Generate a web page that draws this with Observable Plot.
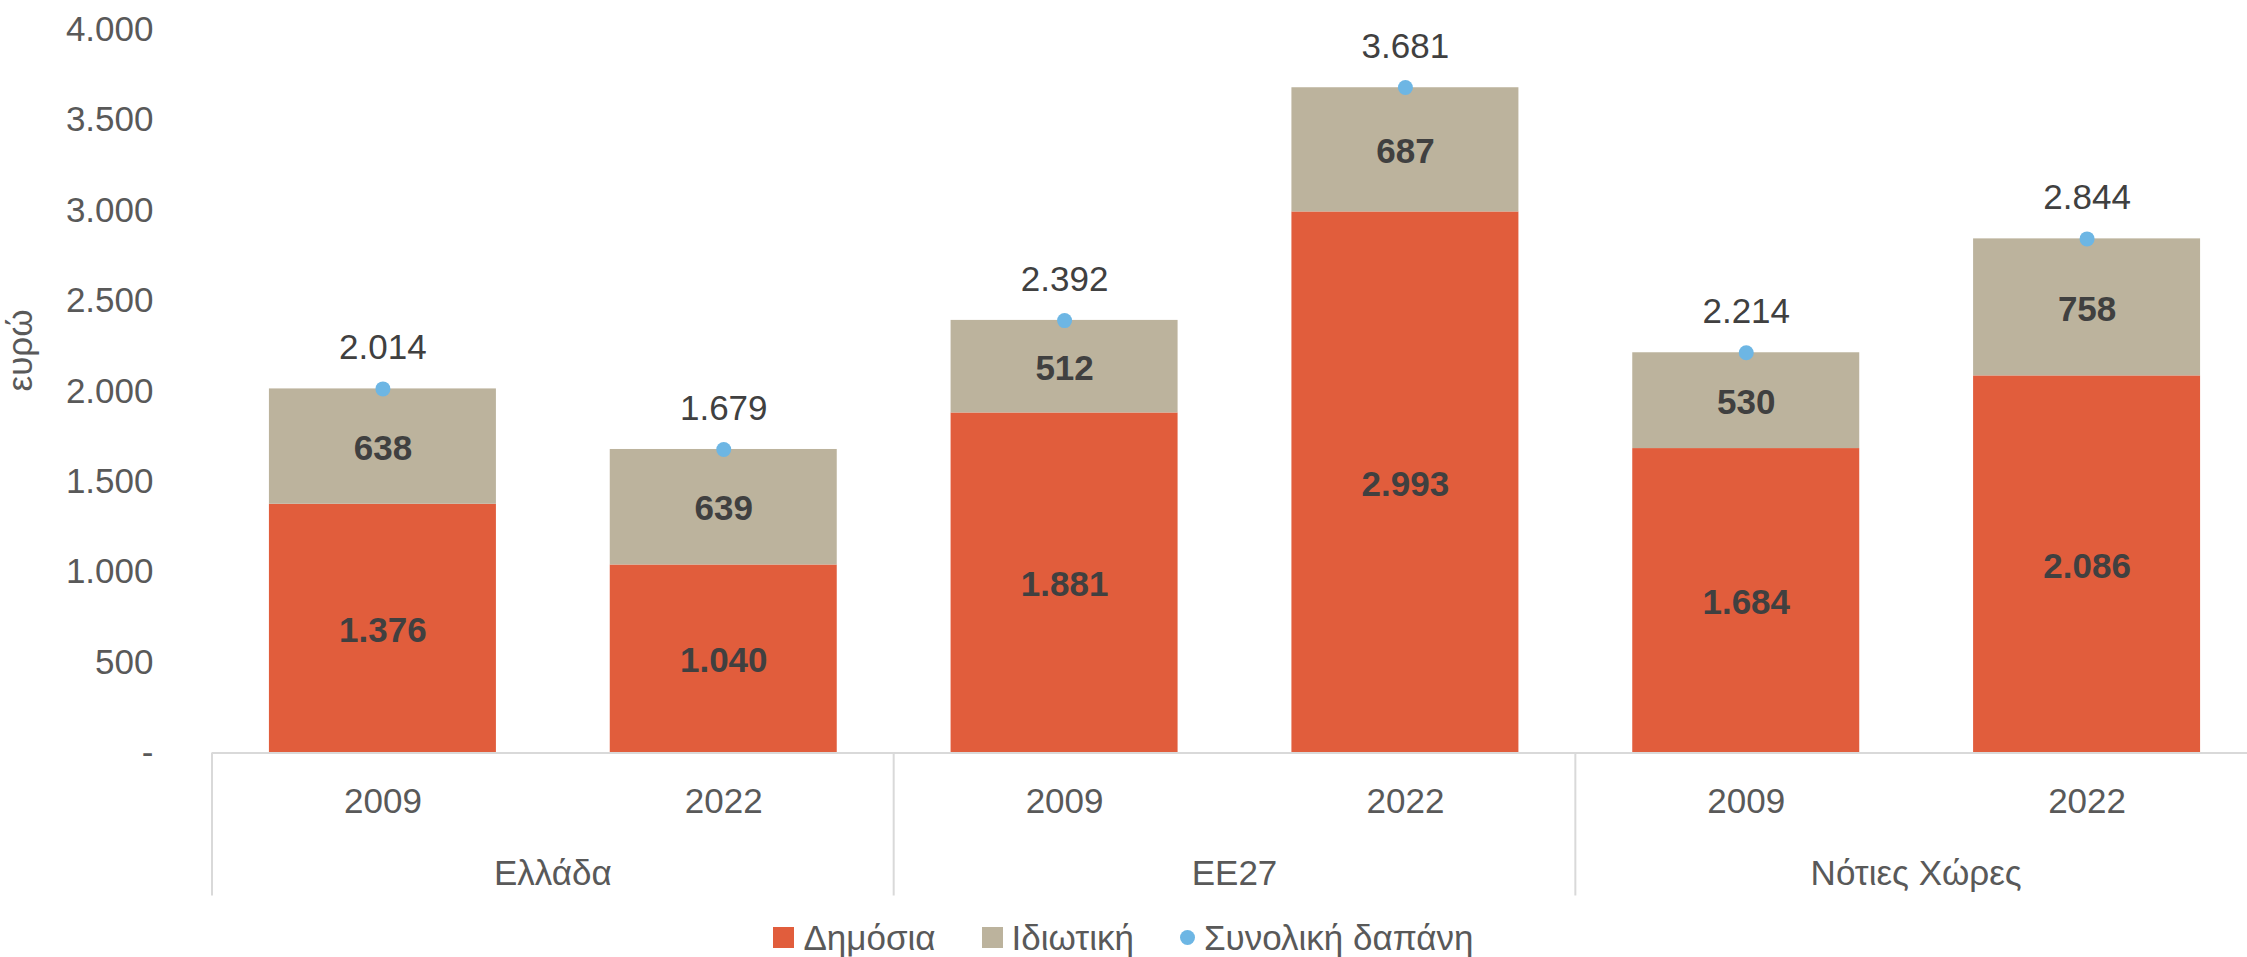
<!DOCTYPE html>
<html>
<head>
<meta charset="utf-8">
<script src="https://cdn.jsdelivr.net/npm/d3@7"></script>
<script src="https://cdn.jsdelivr.net/npm/@observablehq/plot@0.6"></script>
<style>
  html, body { margin: 0; padding: 0; background: #fff; }
  #chart svg { display: block; }
  .legend { display: flex; justify-content: center; align-items: center; height: 45px; margin-top: 3px;
    font-family: "Liberation Sans", Arial, sans-serif; font-size: 35px; color: #595959; width: 2247px; }
  .legend .item { display: flex; align-items: center; margin: 0 23px; }
  .legend .sw { width: 21px; height: 21px; margin-right: 9px; }
  .legend .dot { width: 15px; height: 15px; border-radius: 50%; margin-right: 9px; }
</style>
</head>
<body>
<div id="chart"></div>
<div class="legend" id="legend"></div>
<script>
const categories = ["Ελλάδα", "ΕΕ27", "Νότιες Χώρες"];
const years = ["2009", "2022"];
const seriesNames = ["Δημόσια", "Ιδιωτική", "Συνολική δαπάνη"];
const publicSpend = [1376, 1040, 1881, 2993, 1684, 2086];
const privateSpend = [638, 639, 512, 687, 530, 758];
const totalSpend = [2014, 1679, 2392, 3681, 2214, 2844];
const yTicks = [0, 500, 1000, 1500, 2000, 2500, 3000, 3500, 4000];

const colors = ["#E15D3C", "#BCB39D", "#6DB6E4"];

const locale = d3.formatLocale({decimal: ",", thousands: ".", grouping: [3], currency: ["", "€"]});
const fmt = locale.format(",d");
const fmtAxis = v => v === 0 ? "-" : fmt(v);

const keys = categories.flatMap(c => years.map(y => `${c}|${y}`));
const rows = [];
keys.forEach((k, i) => {
  rows.push({key: k, series: seriesNames[0], value: publicSpend[i]});
  rows.push({key: k, series: seriesNames[1], value: privateSpend[i]});
});
const totals = keys.map((k, i) => ({key: k, total: totalSpend[i]}));

const W = 2247, H = 912, yZero = 752.5, yTop = 29.4;
const font = "'Liberation Sans', Arial, sans-serif";

const chart = Plot.plot({
  width: W,
  height: H,
  marginLeft: 212,
  marginRight: 0,
  marginTop: yTop,
  marginBottom: H - yZero,
  style: {fontFamily: font, fontSize: "35px", color: "#595959", background: "white"},
  x: {domain: keys, range: [212, 2257], paddingInner: 0.334, paddingOuter: 0.167, round: false},
  y: {domain: [0, 4000]},
  color: {domain: seriesNames.slice(0, 2), range: colors.slice(0, 2)},
  marks: [
    Plot.barY(rows, {x: "key", y: "value", fill: "series"}),
    Plot.ruleY([0], {stroke: "#D9D9D9", strokeWidth: 2}),
    Plot.text(rows, Plot.stackY({x: "key", y: "value", z: "series", text: d => fmt(d.value),
      fontWeight: "bold", fontSize: 35, fill: "#404040", dy: 2})),
    Plot.dot(totals, {x: "key", y: "total", r: 7.5, fill: colors[2], stroke: "none"}),
    Plot.text(totals, {x: "key", y: "total", text: d => fmt(d.total), dy: -41, fontSize: 35, fill: "#404040"}),
    Plot.axisY({ticks: yTicks, tickFormat: fmtAxis, tickSize: 0, tickPadding: 59, fontSize: 35, color: "#595959", label: null}),
    Plot.axisX({tickFormat: k => k.split("|")[1], tickSize: 0, tickPadding: 35, fontSize: 35, color: "#595959", label: null}),
    Plot.text(["ευρώ"], {text: d => d, frameAnchor: "left", rotate: -90, dx: -192, fontSize: 35, fill: "#595959"})
  ]
});

document.getElementById("chart").appendChild(chart);

// group separators and group labels, positioned with the chart's own scales
const sx = chart.scale("x");
const sy = chart.scale("y");
const y0 = sy.apply(0);
const g = d3.select(chart).append("g");
categories.forEach(c => {
  const k0 = `${c}|${years[0]}`, k1 = `${c}|${years[1]}`;
  const left = sx.apply(k0) + sx.bandwidth / 2 - sx.step / 2;
  const center = (sx.apply(k0) + sx.apply(k1)) / 2 + sx.bandwidth / 2;
  g.append("line").attr("x1", left).attr("x2", left).attr("y1", y0).attr("y2", y0 + 143)
    .attr("stroke", "#D9D9D9").attr("stroke-width", 2);
  g.append("text").attr("x", center).attr("y", y0 + 120).attr("text-anchor", "middle")
    .attr("dy", "0.35em").attr("font-size", 35).attr("fill", "#595959").text(c);
});

// legend
const legend = d3.select("#legend");
seriesNames.forEach((s, i) => {
  const it = legend.append("div").attr("class", "item");
  it.append("div").attr("class", i < 2 ? "sw" : "dot").style("background", colors[i]);
  it.append("span").text(s);
});
</script>
</body>
</html>
